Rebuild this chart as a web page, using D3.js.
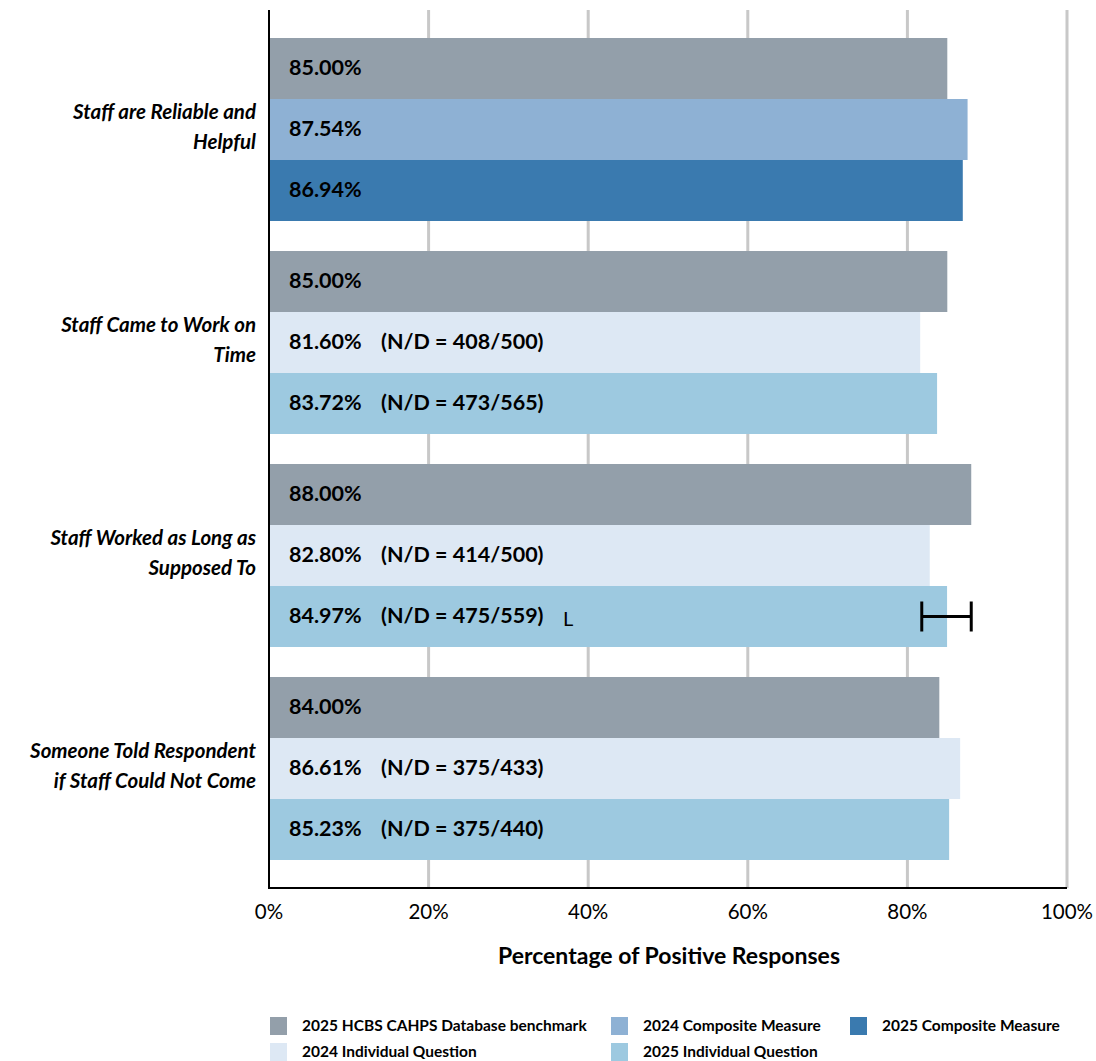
<!DOCTYPE html>
<html>
<head>
<meta charset="utf-8">
<script src="https://cdn.jsdelivr.net/npm/d3@7"></script>
<style>
  body { margin: 0; background: #fff; }
  text { font-family: Lato, "Open Sans", sans-serif; }
</style>
</head>
<body>
<div id="chart"></div>
<script>
// Dữ liệu
const categories = [
  ["Staff are Reliable and", "Helpful"],
  ["Staff Came to Work on", "Time"],
  ["Staff Worked as Long as", "Supposed To"],
  ["Someone Told Respondent", "if Staff Could Not Come"]
];
const seriesNames = [
  "2025 HCBS CAHPS Database benchmark",
  "2024 Composite Measure",
  "2025 Composite Measure",
  "2024 Individual Question",
  "2025 Individual Question"
];
const seriesColors = ["#939faa", "#8eb1d4", "#3a7aaf", "#dde8f4", "#9dc9e0"];

// mỗi nhóm: chỉ số series của 3 cột
const rowSeries = [
  [0, 1, 2],
  [0, 3, 4],
  [0, 3, 4],
  [0, 3, 4]
];
const rowValues = [
  [85.00, 87.54, 86.94],
  [85.00, 81.60, 83.72],
  [88.00, 82.80, 84.97],
  [84.00, 86.61, 85.23]
];
const rowND = [
  [null, null, null],
  [null, "408/500", "473/565"],
  [null, "414/500", "475/559"],
  [null, "375/433", "375/440"]
];
// ký hiệu L và thanh sai số (nhóm 3, cột 3)
const flagRow = 2, flagCol = 2, flagText = "L";
const errRange = [81.8, 88.0];
const xTicks = [0, 20, 40, 60, 80, 100];

const W = 1096, H = 1061;
const plotLeft = 269, plotRight = 1067, plotTop = 10, plotBottom = 888;

const svg = d3.select("#chart").append("svg")
  .attr("width", W).attr("height", H);

const x = d3.scaleLinear().domain([0, 100]).range([plotLeft, plotRight]);
const yGroup = d3.scaleBand().domain(d3.range(categories.length)).range([23, 875]);
const yBar = d3.scaleBand().domain([0, 1, 2]).range([15, 198]);

// lưới dọc
svg.append("g").selectAll("line")
  .data(xTicks.filter(d => d > 0))
  .enter().append("line")
  .attr("x1", d => x(d)).attr("x2", d => x(d))
  .attr("y1", plotTop).attr("y2", plotBottom)
  .attr("stroke", "#c8c8c8").attr("stroke-width", 3);

// các cột
const groups = svg.selectAll(".grp")
  .data(categories)
  .enter().append("g")
  .attr("class", "grp")
  .attr("transform", (d, i) => `translate(0,${yGroup(i)})`);

groups.each(function(cat, gi) {
  const g = d3.select(this);
  const bars = rowValues[gi].map((v, j) => ({ v, s: rowSeries[gi][j], nd: rowND[gi][j], j }));
  g.selectAll("rect").data(bars).enter().append("rect")
    .attr("x", x(0))
    .attr("y", d => yBar(d.j))
    .attr("width", d => x(d.v) - x(0))
    .attr("height", yBar.bandwidth())
    .attr("fill", d => seriesColors[d.s]);

  const vt = g.selectAll(".val").data(bars).enter().append("text")
    .attr("y", d => yBar(d.j) + yBar.bandwidth() / 2)
    .attr("dy", "0.28em")
    .style("font-size", "21.5px")
    .style("font-weight", "bold")
    .attr("fill", "#000");
  vt.append("tspan").attr("x", 289).text(d => d.v.toFixed(2) + "%");
  vt.filter(d => d.nd).append("tspan").attr("x", 381).text(d => `(N/D = ${d.nd})`);

  // nhãn danh mục
  const lab = g.append("text")
    .attr("text-anchor", "end")
    .style("font-size", "20.5px")
    .style("font-weight", "bold")
    .style("font-style", "italic");
  cat.forEach((line, k) => {
    lab.append("tspan")
      .attr("x", 256)
      .attr("y", yBar(1) + yBar.bandwidth() / 2 + (k === 0 ? -18 : 12))
      .attr("dy", "0.35em")
      .text(line);
  });

  if (gi === flagRow) {
    const cy = yBar(flagCol) + yBar.bandwidth() / 2;
    g.append("text")
      .attr("x", 563).attr("y", cy).attr("dy", "0.45em")
      .style("font-size", "20px")
      .text(flagText);
    g.append("line")
      .attr("x1", x(errRange[0])).attr("x2", x(errRange[1]))
      .attr("y1", cy).attr("y2", cy)
      .attr("stroke", "#000").attr("stroke-width", 3);
    errRange.forEach(v => {
      g.append("line")
        .attr("x1", x(v)).attr("x2", x(v))
        .attr("y1", cy - 15).attr("y2", cy + 15)
        .attr("stroke", "#000").attr("stroke-width", 3);
    });
  }
});

// trục
svg.append("line")
  .attr("x1", plotLeft).attr("x2", plotLeft).attr("y1", plotTop).attr("y2", plotBottom + 1)
  .attr("stroke", "#000").attr("stroke-width", 2);
svg.append("line")
  .attr("x1", plotLeft).attr("x2", plotRight).attr("y1", plotBottom).attr("y2", plotBottom)
  .attr("stroke", "#000").attr("stroke-width", 2);

svg.append("g").selectAll("text")
  .data(xTicks)
  .enter().append("text")
  .attr("x", d => x(d)).attr("y", 919)
  .attr("text-anchor", "middle")
  .style("font-size", "20.5px")
  .attr("fill", "#000")
  .text(d => d + "%");

svg.append("text")
  .attr("x", 669).attr("y", 964)
  .attr("text-anchor", "middle")
  .style("font-size", "23px")
  .style("font-weight", "bold")
  .text("Percentage of Positive Responses");

// chú thích
const legendPos = [[270, 1026], [611, 1026], [850, 1026], [270, 1052], [611, 1052]];
const legend = svg.selectAll(".lg")
  .data(seriesNames)
  .enter().append("g")
  .attr("transform", (d, i) => `translate(${legendPos[i][0]},${legendPos[i][1]})`);
legend.append("rect")
  .attr("x", 0).attr("y", -9).attr("width", 17).attr("height", 18)
  .attr("fill", (d, i) => seriesColors[i]);
legend.append("text")
  .attr("x", 32).attr("y", 0).attr("dy", "0.33em")
  .style("font-size", "15.5px")
  .style("font-weight", "bold")
  .text(d => d);
</script>
</body>
</html>
